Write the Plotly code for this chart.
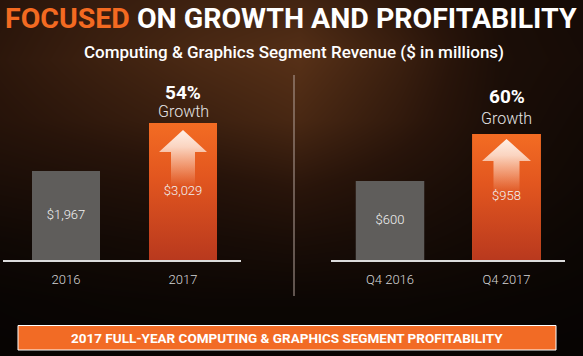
import plotly.graph_objects as go

W, H = 583, 356

# ---------------- data ----------------
ANNUAL_CATEGORIES = ["2016", "2017"]
ANNUAL_REVENUE = [1967, 3029]
ANNUAL_GROWTH = "54%"

QUARTER_CATEGORIES = ["Q4 2016", "Q4 2017"]
QUARTER_REVENUE = [600, 958]
QUARTER_GROWTH = "60%"

TITLE_HIGHLIGHT = "FOCUSED"
TITLE_REST = "ON GROWTH AND PROFITABILITY"
SUBTITLE = "Computing & Graphics Segment Revenue ($ in millions)"
BANNER_TEXT = "2017 FULL-YEAR COMPUTING & GRAPHICS SEGMENT PROFITABILITY"
GROWTH_WORD = "Growth"

# background glow brightness, rows top->bottom
BG_X = [0, 100, 200, 300, 400, 500, 583]
BG_Y = [0, 60, 120, 180, 240, 300, 356]
BG_GLOW = [
    [0.50, 0.65, 0.75, 0.80, 0.55, 0.30, 0.22],
    [0.55, 0.72, 0.88, 1.00, 0.70, 0.32, 0.25],
    [0.48, 0.60, 0.72, 0.85, 0.60, 0.30, 0.20],
    [0.32, 0.38, 0.45, 0.55, 0.40, 0.25, 0.16],
    [0.15, 0.20, 0.25, 0.30, 0.25, 0.16, 0.10],
    [0.05, 0.08, 0.10, 0.10, 0.10, 0.07, 0.05],
    [0.02, 0.03, 0.04, 0.04, 0.04, 0.03, 0.02],
]

# ---------------- style ----------------
GRAY = "#5f5d5b"
ORANGE_TOP = "#f36c23"
ORANGE_BOTTOM = "#b9391e"
TITLE_ORANGE = "#f36a21"
BANNER_ORANGE = "#f26b25"
FONT = "Roboto, 'Open Sans', sans-serif"


def fx(px):
    return px / W


def fy(px):
    return (H - px) / H


panels = [
    dict(cats=ANNUAL_CATEGORIES, vals=ANNUAL_REVENUE, growth=ANNUAL_GROWTH,
         xpx=(3, 241), centers=(66, 183), ypx=(75, 260), scale=0.04525,
         bar_px=68, pct_up=30, word_up=11,
         arrow=dict(tip=7, head=29, tail=64, head_hw=24, shaft_hw=12)),
    dict(cats=QUARTER_CATEGORIES, vals=QUARTER_REVENUE, growth=QUARTER_GROWTH,
         xpx=(331, 565), centers=(390, 506.5), ypx=(75, 260), scale=0.1316,
         bar_px=68.5, pct_up=37, word_up=15,
         arrow=dict(tip=5, head=27, tail=60, head_hw=24.5, shaft_hw=13)),
]

fig = go.Figure()

# background glow on first (lowest) subplot
fig.add_trace(go.Heatmap(
    x=BG_X, y=BG_Y, z=BG_GLOW, zsmooth="best", showscale=False,
    zmin=0, zmax=1, hoverinfo="skip",
    colorscale=[[0, "#050302"], [0.5, "#28140a"], [1, "#563017"]],
    xaxis="x", yaxis="y",
))

layout_axes = dict(
    xaxis=dict(domain=[0, 1], range=[0, W], visible=False, fixedrange=True),
    yaxis=dict(domain=[0, 1], range=[H, 0], visible=False, fixedrange=True),
)

annotations = []

for i, p in enumerate(panels):
    n = i + 2
    xa, ya = f"x{n}", f"y{n}"
    unit = p["centers"][1] - p["centers"][0]
    xr = [(p["xpx"][0] - p["centers"][0]) / unit, (p["xpx"][1] - p["centers"][0]) / unit]
    ytop = (p["ypx"][1] - p["ypx"][0]) / p["scale"]
    bw = p["bar_px"] / unit
    xs = list(range(len(p["cats"])))

    fig.add_trace(go.Bar(
        x=xs, y=p["vals"], width=bw, marker=dict(color=[GRAY, ORANGE_TOP], line=dict(width=0)),
        hoverinfo="skip", xaxis=xa, yaxis=ya, showlegend=False,
    ))

    # gradient body of the growth bar
    gx = xs[1]
    v = p["vals"][1]
    fig.add_trace(go.Scatter(
        x=[gx - bw / 2, gx + bw / 2, gx + bw / 2, gx - bw / 2, gx - bw / 2],
        y=[0, 0, v, v, 0], mode="lines", line=dict(width=0), fill="toself",
        fillgradient=dict(type="vertical", colorscale=[[0, ORANGE_BOTTOM], [0.6, "#e2561f"], [1, ORANGE_TOP]]),
        hoverinfo="skip", xaxis=xa, yaxis=ya, showlegend=False,
    ))

    # up arrow
    a = p["arrow"]
    s = p["scale"]
    tip = v - a["tip"] / s
    head = v - a["head"] / s
    tail = v - a["tail"] / s
    hh = a["head_hw"] / unit
    sh = a["shaft_hw"] / unit
    fig.add_trace(go.Scatter(
        x=[gx, gx + hh, gx + sh, gx + sh, gx - sh, gx - sh, gx - hh, gx],
        y=[tip, head, head, tail, tail, head, head, tip],
        mode="lines", line=dict(width=0), fill="toself",
        fillgradient=dict(type="vertical", colorscale=[
            [0, "rgba(250,200,170,0)"], [0.35, "rgba(252,215,195,0.45)"],
            [0.7, "rgba(253,232,220,0.85)"], [1, "rgba(255,245,238,0.97)"]]),
        hoverinfo="skip", xaxis=xa, yaxis=ya, showlegend=False,
    ))

    # value labels
    fig.add_trace(go.Scatter(
        x=xs, y=[val / 2 for val in p["vals"]], mode="text",
        text=[f"${val:,}" for val in p["vals"]],
        textfont=dict(family=FONT, size=13, color="#f2f2f2", weight=300),
        hoverinfo="skip", xaxis=xa, yaxis=ya, showlegend=False,
    ))

    layout_axes[f"xaxis{n}"] = dict(
        domain=[fx(p["xpx"][0]), fx(p["xpx"][1])], range=xr, anchor=ya,
        tickvals=xs, ticktext=p["cats"], showgrid=False, zeroline=False,
        showline=True, linecolor="#dcdcdc", linewidth=1.5, ticks="",
        tickfont=dict(family=FONT, size=13, color="#d4d4d4", weight=300),
        ticklabelstandoff=7, fixedrange=True,
    )
    layout_axes[f"yaxis{n}"] = dict(
        domain=[fy(p["ypx"][1]), fy(p["ypx"][0])], range=[0, ytop], anchor=xa,
        visible=False, fixedrange=True,
    )

    annotations.append(dict(
        x=gx, y=v, xref=xa, yref=ya, text=f"<b>{p['growth']}</b>", showarrow=False,
        yanchor="middle", yshift=p["pct_up"],
        font=dict(family=FONT, size=19, color="#ffffff"),
    ))
    annotations.append(dict(
        x=gx, y=v, xref=xa, yref=ya, text=GROWTH_WORD, showarrow=False,
        yanchor="middle", yshift=p["word_up"],
        font=dict(family=FONT, size=16, color="#e6e6e6", weight=300),
    ))

# title & subtitle
annotations.append(dict(
    x=fx(291), y=fy(19), xref="paper", yref="paper", showarrow=False,
    xanchor="center", yanchor="middle",
    text=f"<span style='color:{TITLE_ORANGE}'>{TITLE_HIGHLIGHT}</span> {TITLE_REST}",
    font=dict(family=FONT, size=28.5, color="#ffffff", weight="bold"),
))
annotations.append(dict(
    x=fx(294), y=fy(52), xref="paper", yref="paper", showarrow=False,
    xanchor="center", yanchor="middle", text=SUBTITLE,
    font=dict(family=FONT, size=17, color="#ffffff", weight=500),
))
# banner text
annotations.append(dict(
    x=fx(287), y=fy(338), xref="paper", yref="paper", showarrow=False,
    xanchor="center", yanchor="middle", text=BANNER_TEXT,
    font=dict(family=FONT, size=13.5, color="#ffffff", weight="bold"),
))

shapes = [
    dict(type="line", xref="paper", yref="paper", x0=fx(294), x1=fx(294),
         y0=fy(75), y1=fy(296), line=dict(color="#b3a29a", width=1)),
    dict(type="rect", xref="paper", yref="paper", x0=fx(18), x1=fx(556),
         y0=fy(350), y1=fy(325.5), fillcolor=BANNER_ORANGE,
         line=dict(color="#ffffff", width=1)),
]

fig.update_layout(
    width=W, height=H, margin=dict(l=0, r=0, t=0, b=0),
    paper_bgcolor="#050302", plot_bgcolor="rgba(0,0,0,0)",
    showlegend=False, annotations=annotations, shapes=shapes,
    font=dict(family=FONT), barmode="overlay",
    **layout_axes,
)

fig.write_html(
    "out.html",
    config={"displayModeBar": False},
    post_script="document.body.style.margin='0';document.body.style.padding='0';"
                "document.body.style.background='#050302';",
)
